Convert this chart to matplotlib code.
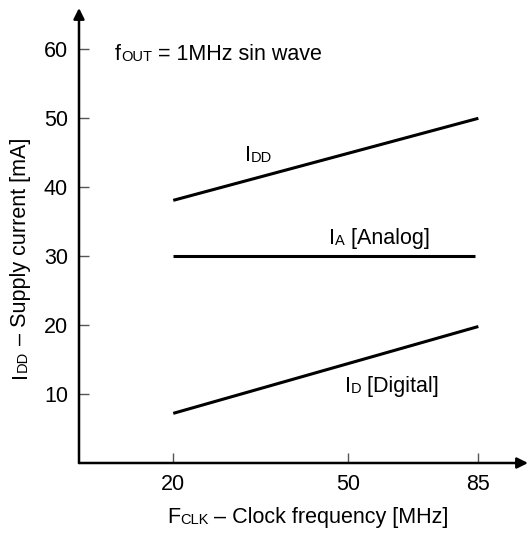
import numpy as np
import matplotlib
matplotlib.use("Agg")
import matplotlib.pyplot as plt

plt.rcParams['font.family'] = ['Liberation Sans', 'DejaVu Sans']

# data (x = clock frequency MHz, y = current mA)
fclk = [20, 85]
idd = [38.1, 50.0]
ia = [30.0, 30.0]
ia_x = [20, 84]
idig = [7.2, 19.8]
xticks = [20, 50, 85]
yticks = [10, 20, 30, 40, 50, 60]

# the frequency axis is not linear in the original, so use a piecewise scale
scale_v = [0, 20, 50, 85, 120]
scale_p = [57.0, 173.3, 347.7, 478.3, 608.9]

def fwd(v):
    return np.interp(v, scale_v, scale_p)

def inv(p):
    return np.interp(p, scale_p, scale_v)

BIG = 15.5
SMALL = 10.5
DESC = 0.212  # descent of Liberation Sans, fraction of em

def rainbow(ax, x, y, parts, transform, rotation=0):
    s, fs = parts[0]
    if rotation:
        t = ax.text(x, y, s, fontsize=fs, transform=transform, rotation=90,
                    ha='right', va='bottom')
    else:
        t = ax.text(x, y, s, fontsize=fs, transform=transform, va='baseline')
    prev = fs
    for s, fs in parts[1:]:
        # keep all pieces on one baseline
        off = (prev - fs) * DESC
        if rotation:
            t = ax.annotate(s, xy=(1, 1), xycoords=t, fontsize=fs, rotation=90,
                            xytext=(-off, 0), textcoords='offset points',
                            ha='right', va='bottom')
        else:
            t = ax.annotate(s, xy=(1, 0), xycoords=t, fontsize=fs,
                            xytext=(0, off), textcoords='offset points',
                            ha='left', va='bottom')
        prev = fs
    return t

fig = plt.figure(figsize=(5.28, 5.33), dpi=100)
ax = fig.add_axes([79/528, 70/533, (528-79)/528, (463-8)/533])
ax.set_xscale('function', functions=(fwd, inv))
ax.set_xlim(3.8, 98.3)
ax.set_ylim(0, 66)

ax.plot(fclk, idd, color='black', lw=2.2, solid_capstyle='butt')
ax.plot(ia_x, ia, color='black', lw=2.2, solid_capstyle='butt')
ax.plot(fclk, idig, color='black', lw=2.2, solid_capstyle='butt')

for sp in ax.spines.values():
    sp.set_visible(False)
ax.annotate('', xy=(1, 0), xytext=(0, 0), xycoords='axes fraction',
            arrowprops=dict(arrowstyle='-|>', lw=1.8, color='black',
                            mutation_scale=16, shrinkA=0, shrinkB=0))
ax.annotate('', xy=(0, 1), xytext=(0, 0), xycoords='axes fraction',
            arrowprops=dict(arrowstyle='-|>', lw=1.8, color='black',
                            mutation_scale=16, shrinkA=0, shrinkB=0))

ax.set_xticks(xticks)
ax.set_xticklabels([str(v) for v in xticks])
ax.set_yticks(yticks)
ax.set_yticklabels([str(v) for v in yticks])
ax.tick_params(direction='in', length=7, width=1, color='#555555',
               labelsize=BIG, pad=8)
ax.xaxis.set_minor_locator(matplotlib.ticker.NullLocator())

# curve labels
rainbow(ax, 32.3, 43.8, [('I', BIG), ('DD', SMALL)], ax.transData)
rainbow(ax, 46.8, 31.7, [('I', BIG), ('A', SMALL), (' [Analog]', BIG)], ax.transData)
rainbow(ax, 49.5, 10.3, [('I', BIG), ('D', SMALL), (' [Digital]', BIG)], ax.transData)
rainbow(ax, 10.0, 58.4, [('f', BIG), ('OUT', SMALL), (' = 1MHz sin wave', BIG)], ax.transData)

# axis titles
rainbow(ax, 167/528, 10/533, [('F', BIG), ('CLK', SMALL),
                              (' – Clock frequency [MHz]', BIG)], fig.transFigure)
rainbow(ax, 31/528, 155/533, [('I', BIG), ('DD', SMALL),
                              (' – Supply current [mA]', BIG)], fig.transFigure,
        rotation=90)

fig.savefig('out.png', dpi=100)
